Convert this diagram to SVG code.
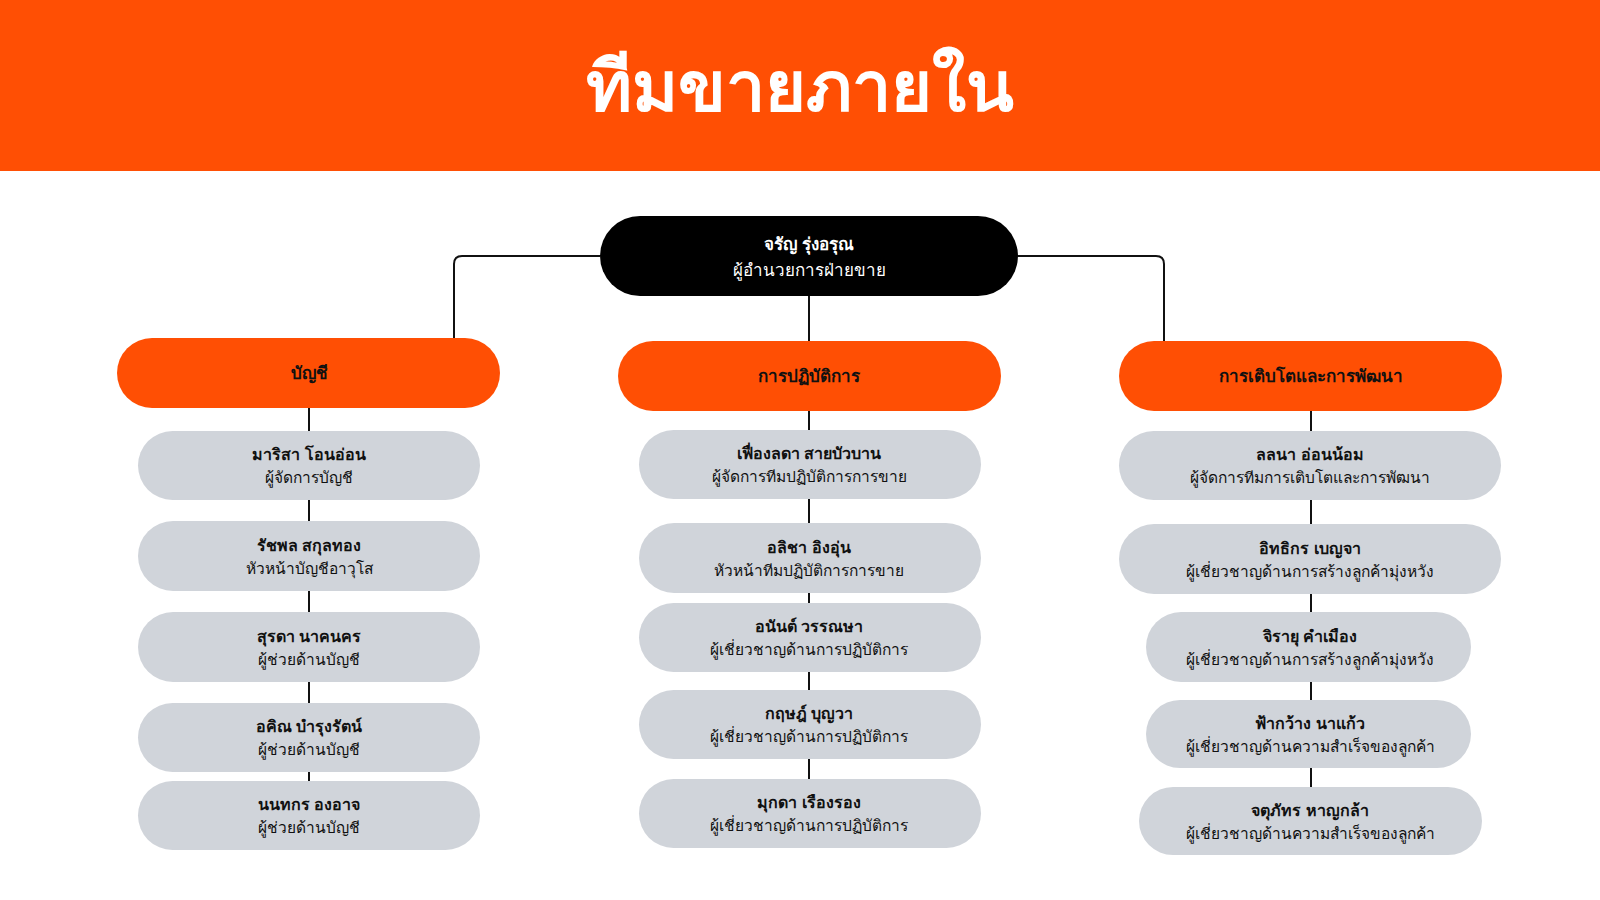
<svg xmlns="http://www.w3.org/2000/svg" width="1600" height="900" viewBox="0 0 1600 900">
<style>
text{font-family:"Noto Sans","DejaVu Sans",sans-serif;text-anchor:middle}
.g{fill:#d0d4da}.o{fill:#ff4f04}
.n{font-size:16px;font-weight:bold;fill:#111}
.r{font-size:15.5px;fill:#111}
.d{font-size:17px;font-weight:bold;fill:#111}
.c{stroke:#111;stroke-width:2;fill:none}
</style>
<rect width="1600" height="900" fill="#fff"/>
<rect width="1600" height="171" fill="#ff4f04"/>
<text x="800" y="111" style="font-size:70px;font-weight:bold;fill:#fff">ทีมขายภายใน</text>
<g id="connectors">
<path class="c" d="M600 256H462Q454 256 454 264V338"/>
<path class="c" d="M1018 256H1156Q1164 256 1164 264V341"/>
<path class="c" d="M809 296V342"/>
<path class="c" d="M309 408V781"/>
<path class="c" d="M809 411V779"/>
<path class="c" d="M1311 411V787"/>
</g>
<g id="top"><rect x="600" y="216" width="418" height="80" rx="40" fill="#000"/>
<text x="809" y="250" style="font-size:17px;font-weight:bold;fill:#fff">จรัญ รุ่งอรุณ</text>
<text x="809" y="276" style="font-size:17px;fill:#fff">ผู้อำนวยการฝ่ายขาย</text></g>
<g id="d1"><rect class="o" x="117" y="338" width="383" height="70" rx="35"/><text class="d" x="309" y="379">บัญชี</text></g>
<g id="d2"><rect class="o" x="618" y="341" width="383" height="70" rx="35"/><text class="d" x="809" y="382">การปฏิบัติการ</text></g>
<g id="d3"><rect class="o" x="1119" y="341" width="383" height="70" rx="35"/><text class="d" x="1311" y="382">การเติบโตและการพัฒนา</text></g>
<g id="l1"><rect class="g" x="138" y="431" width="342" height="69" rx="34.5"/><text class="n" x="309" y="460">มาริสา โอนอ่อน</text><text class="r" x="309" y="483">ผู้จัดการบัญชี</text></g>
<g id="l2"><rect class="g" x="138" y="521" width="342" height="70" rx="35"/><text class="n" x="309" y="551">รัชพล สกุลทอง</text><text class="r" x="309" y="574">หัวหน้าบัญชีอาวุโส</text></g>
<g id="l3"><rect class="g" x="138" y="612" width="342" height="70" rx="35"/><text class="n" x="309" y="642">สุรดา นาคนคร</text><text class="r" x="309" y="665">ผู้ช่วยด้านบัญชี</text></g>
<g id="l4"><rect class="g" x="138" y="703" width="342" height="69" rx="34.5"/><text class="n" x="309" y="732">อคิณ บำรุงรัตน์</text><text class="r" x="309" y="755">ผู้ช่วยด้านบัญชี</text></g>
<g id="l5"><rect class="g" x="138" y="781" width="342" height="69" rx="34.5"/><text class="n" x="309" y="810">นนทกร องอาจ</text><text class="r" x="309" y="833">ผู้ช่วยด้านบัญชี</text></g>
<g id="m1"><rect class="g" x="639" y="430" width="342" height="69" rx="34.5"/><text class="n" x="809" y="459">เฟื่องลดา สายบัวบาน</text><text class="r" x="809" y="482">ผู้จัดการทีมปฏิบัติการการขาย</text></g>
<g id="m2"><rect class="g" x="639" y="523" width="342" height="70" rx="35"/><text class="n" x="809" y="553">อลิชา อิงอุ่น</text><text class="r" x="809" y="576">หัวหน้าทีมปฏิบัติการการขาย</text></g>
<g id="m3"><rect class="g" x="639" y="603" width="342" height="69" rx="34.5"/><text class="n" x="809" y="632">อนันต์ วรรณษา</text><text class="r" x="809" y="655">ผู้เชี่ยวชาญด้านการปฏิบัติการ</text></g>
<g id="m4"><rect class="g" x="639" y="690" width="342" height="69" rx="34.5"/><text class="n" x="809" y="719">กฤษฎ์ บุญวา</text><text class="r" x="809" y="742">ผู้เชี่ยวชาญด้านการปฏิบัติการ</text></g>
<g id="m5"><rect class="g" x="639" y="779" width="342" height="69" rx="34.5"/><text class="n" x="809" y="808">มุกดา เรืองรอง</text><text class="r" x="809" y="831">ผู้เชี่ยวชาญด้านการปฏิบัติการ</text></g>
<g id="r1"><rect class="g" x="1119" y="431" width="382" height="69" rx="34.5"/><text class="n" x="1310" y="460">ลลนา อ่อนน้อม</text><text class="r" x="1310" y="483">ผู้จัดการทีมการเติบโตและการพัฒนา</text></g>
<g id="r2"><rect class="g" x="1119" y="524" width="382" height="70" rx="35"/><text class="n" x="1310" y="554">อิทธิกร เบญจา</text><text class="r" x="1310" y="577">ผู้เชี่ยวชาญด้านการสร้างลูกค้ามุ่งหวัง</text></g>
<g id="r3"><rect class="g" x="1146" y="612" width="325" height="70" rx="35"/><text class="n" x="1310" y="642">จิรายุ คำเมือง</text><text class="r" x="1310" y="665">ผู้เชี่ยวชาญด้านการสร้างลูกค้ามุ่งหวัง</text></g>
<g id="r4"><rect class="g" x="1146" y="700" width="325" height="68" rx="34"/><text class="n" x="1310" y="729">ฟ้ากว้าง นาแก้ว</text><text class="r" x="1310" y="752">ผู้เชี่ยวชาญด้านความสำเร็จของลูกค้า</text></g>
<g id="r5"><rect class="g" x="1139" y="787" width="343" height="68" rx="34"/><text class="n" x="1310" y="816">จตุภัทร หาญกล้า</text><text class="r" x="1310" y="839">ผู้เชี่ยวชาญด้านความสำเร็จของลูกค้า</text></g>
</svg>
